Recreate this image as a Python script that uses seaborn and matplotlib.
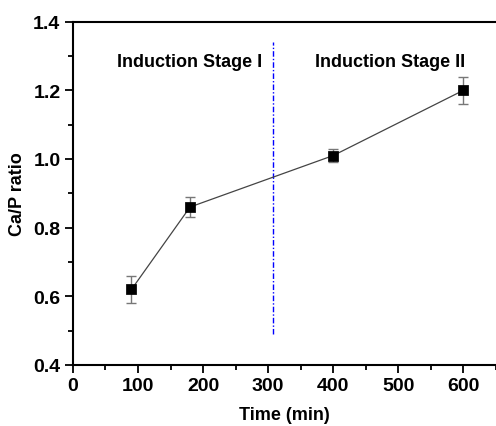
import matplotlib
matplotlib.use('Agg')
import matplotlib.pyplot as plt
import numpy as np
import pandas as pd
import seaborn as sns
from matplotlib.ticker import MultipleLocator

# data
time_min = [90, 180, 400, 600]
ca_p_ratio = [0.62, 0.86, 1.01, 1.20]
ca_p_err = [0.04, 0.03, 0.02, 0.04]
stage_boundary = 308
stage_labels = ['Induction Stage I', 'Induction Stage II']

sns.set_style('ticks')
plt.rcParams['font.family'] = ['Liberation Sans', 'DejaVu Sans']
plt.rcParams['font.weight'] = 'bold'
for key in ['text.color', 'axes.labelcolor', 'xtick.color', 'ytick.color']:
    plt.rcParams[key] = 'black'

df = pd.DataFrame({'time': time_min, 'ratio': ca_p_ratio, 'err': ca_p_err})

fig = plt.figure(figsize=(4.96, 4.27), dpi=100)
ax = fig.add_axes([0.147, 0.143, 0.853, 0.804])

# error bars first, then the line and the square markers
ax.errorbar(df['time'], df['ratio'], yerr=df['err'], fmt='none',
            ecolor='#777777', elinewidth=1.0, capsize=3.5, capthick=1.0, zorder=2)
sns.lineplot(data=df, x='time', y='ratio', ax=ax, color='#444444',
             linewidth=0.9, zorder=3)
sns.scatterplot(data=df, x='time', y='ratio', ax=ax, marker='s', s=45,
                color='black', edgecolor='black', zorder=4)

# boundary between the two stages
ax.plot([stage_boundary, stage_boundary], [0.49, 1.34], color='#0000ff',
        linestyle=(0, (4, 1.5, 1, 1.5)), linewidth=1.0, zorder=1)

ax.text(179, 1.285, stage_labels[0], ha='center', va='center',
        fontsize=13, fontweight='bold')
ax.text(487, 1.285, stage_labels[1], ha='center', va='center',
        fontsize=13, fontweight='bold')

ax.set_xlim(0, 650)
ax.set_ylim(0.4, 1.4)
ax.xaxis.set_major_locator(MultipleLocator(100))
ax.xaxis.set_minor_locator(MultipleLocator(50))
ax.yaxis.set_minor_locator(MultipleLocator(0.1))
ax.set_yticks(np.arange(0.4, 1.41, 0.2))
ax.set_yticklabels([f'{v:.1f}' for v in np.arange(0.4, 1.41, 0.2)])

ax.set_xlabel('Time (min)', fontsize=13, fontweight='bold', labelpad=8)
ax.set_ylabel('Ca/P ratio', fontsize=13, fontweight='bold', labelpad=5)

ax.tick_params(axis='both', which='major', direction='out', length=6,
               width=1.3, labelsize=14, pad=3)
ax.tick_params(axis='both', which='minor', direction='out', length=3.5, width=1.3)
for lab in ax.get_xticklabels() + ax.get_yticklabels():
    lab.set_fontweight('bold')

for side in ['left', 'bottom', 'top']:
    ax.spines[side].set_linewidth(1.5)
    ax.spines[side].set_color('black')
ax.spines['top'].set_visible(True)
ax.spines['right'].set_visible(False)

fig.savefig('out.png', dpi=100)
